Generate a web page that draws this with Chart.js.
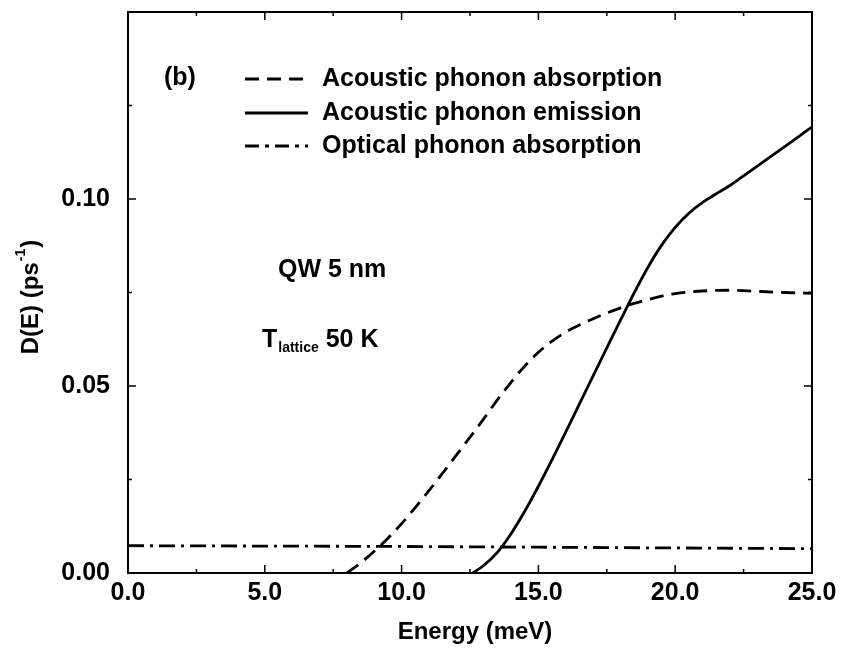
<!DOCTYPE html>
<html>
<head>
<meta charset="utf-8">
<script src="https://cdn.jsdelivr.net/npm/chart.js@4/dist/chart.umd.min.js"></script>
<style>
  html, body { margin: 0; padding: 0; background: #fff; }
  #wrap { width: 845px; height: 648px; }
</style>
</head>
<body>
<div id="wrap"><canvas id="c" width="845" height="648"></canvas></div>
<script>
// ---- Data ----
const absorbEnergy = [8.0, 8.5, 9.0, 9.5, 10.0, 10.5, 11.0, 11.5, 12.0, 12.5, 13.0, 13.5, 14.0, 14.5, 15.0, 15.5, 16.0, 16.5, 17.0, 17.5, 18.0, 18.5, 19.0, 19.5, 20.0, 21.0, 22.0, 23.0, 24.0, 25.0];
const absorbRate   = [0.0, 0.0027, 0.0058, 0.0093, 0.0132, 0.0175, 0.0220, 0.0267, 0.0315, 0.0363, 0.0412, 0.0463, 0.0510, 0.0553, 0.0590, 0.0620, 0.0644, 0.0663, 0.0680, 0.0695, 0.0709, 0.0721, 0.0731, 0.0740, 0.0747, 0.0754, 0.0756, 0.0753, 0.0750, 0.0748];

const emitEnergy = [12.6, 13.0, 13.5, 14.0, 14.5, 15.0, 15.5, 16.0, 16.5, 17.0, 17.5, 18.0, 18.5, 19.0, 19.5, 20.0, 20.5, 21.0, 21.5, 22.0, 22.5, 23.0, 23.5, 24.0, 24.5, 25.0];
const emitRate   = [0.0, 0.0020, 0.0055, 0.0105, 0.0165, 0.0232, 0.0303, 0.0377, 0.0452, 0.0527, 0.0602, 0.0676, 0.0749, 0.0817, 0.0876, 0.0924, 0.0962, 0.0991, 0.1014, 0.1036, 0.1062, 0.1088, 0.1114, 0.1140, 0.1166, 0.1193];

const opticEnergy = [0, 5, 10, 15, 20, 25];
const opticRate   = [0.0073, 0.0072, 0.0071, 0.0069, 0.0067, 0.0065];

const seriesLabels = ["Acoustic phonon absorption", "Acoustic phonon emission", "Optical phonon absorption"];
const xMajorTicks = [0, 5, 10, 15, 20, 25];
const xMinorTicks = [2.5, 7.5, 12.5, 17.5, 22.5];
const yLabelTicks = [0, 0.05, 0.10];
const yMajorTicks = [0, 0.05, 0.10, 0.15];
const yMinorTicks = [0.025, 0.075, 0.125];

const FONT = "'Liberation Sans', Arial, Helvetica, sans-serif";
const dashAbs = [14, 8];
const dashOpt = [16, 6, 3, 6];

function pts(xs, ys) { return xs.map((x, i) => ({x: x, y: ys[i]})); }

const decor = {
  id: 'decor',
  afterDraw(chart) {
    const {ctx, chartArea: a, scales: {x, y}} = chart;
    ctx.save();
    // frame
    ctx.strokeStyle = '#000';
    ctx.lineWidth = 2;
    ctx.strokeRect(a.left, a.top, a.right - a.left, a.bottom - a.top);
    // inward ticks on all four sides
    ctx.lineWidth = 1.5;
    const tick = (vals, len) => {
      vals.forEach(v => {
        const px = x.getPixelForValue(v);
        ctx.beginPath();
        ctx.moveTo(px, a.bottom); ctx.lineTo(px, a.bottom - len);
        ctx.moveTo(px, a.top); ctx.lineTo(px, a.top + len);
        ctx.stroke();
      });
    };
    const ytick = (vals, len) => {
      vals.forEach(v => {
        const py = y.getPixelForValue(v);
        ctx.beginPath();
        ctx.moveTo(a.left, py); ctx.lineTo(a.left + len, py);
        ctx.moveTo(a.right, py); ctx.lineTo(a.right - len, py);
        ctx.stroke();
      });
    };
    tick(xMajorTicks, 8); tick(xMinorTicks, 4);
    ytick(yMajorTicks, 8); ytick(yMinorTicks, 4);

    ctx.fillStyle = '#000';
    ctx.textBaseline = 'middle';
    ctx.textAlign = 'left';
    const big = 'bold 25px ' + FONT;
    // panel label
    ctx.font = big;
    ctx.fillText('(b)', 164, 78);

    // legend
    const rows = [79, 113, 146];
    const dashes = [dashAbs, [], [14, 6, 4, 6]];
    ctx.lineWidth = 2.8;
    rows.forEach((ry, i) => {
      ctx.setLineDash(dashes[i]);
      ctx.beginPath();
      ctx.moveTo(245, ry); ctx.lineTo(308, ry);
      ctx.stroke();
    });
    ctx.setLineDash([]);
    ctx.font = big;
    rows.forEach((ry, i) => ctx.fillText(seriesLabels[i], 322, ry));

    // annotations
    ctx.fillText('QW 5 nm', 278, 270);
    ctx.fillText('T', 262, 340);
    let tw = ctx.measureText('T').width;
    ctx.font = 'bold 14px ' + FONT;
    ctx.fillText('lattice', 262 + tw + 1, 348);
    let sw = ctx.measureText('lattice').width;
    ctx.font = big;
    ctx.fillText(' 50 K', 262 + tw + 1 + sw, 340);

    // x title
    ctx.font = 'bold 24px ' + FONT;
    ctx.textAlign = 'center';
    ctx.fillText('Energy (meV)', 475, 632);

    // y title (rotated, with superscript)
    ctx.save();
    ctx.translate(31, 297);
    ctx.rotate(-Math.PI / 2);
    ctx.font = 'bold 24px ' + FONT;
    const p1 = 'D(E) (ps', p2 = '-1', p3 = ')';
    const w1 = ctx.measureText(p1).width;
    ctx.font = 'bold 14px ' + FONT;
    const w2 = ctx.measureText(p2).width;
    ctx.font = 'bold 24px ' + FONT;
    const w3 = ctx.measureText(p3).width;
    let sx = -(w1 + w2 + w3 + 2) / 2;
    ctx.textAlign = 'left';
    ctx.fillText(p1, sx, 0);
    ctx.font = 'bold 14px ' + FONT;
    ctx.fillText(p2, sx + w1 + 1, -10);
    ctx.font = 'bold 24px ' + FONT;
    ctx.fillText(p3, sx + w1 + w2 + 2, 0);
    ctx.restore();

    ctx.restore();
  }
};

new Chart(document.getElementById('c'), {
  type: 'scatter',
  data: {
    datasets: [
      { label: seriesLabels[0], data: pts(absorbEnergy, absorbRate), showLine: true,
        borderColor: '#000', borderWidth: 2.8, borderDash: dashAbs, pointRadius: 0,
        cubicInterpolationMode: 'monotone', fill: false },
      { label: seriesLabels[1], data: pts(emitEnergy, emitRate), showLine: true,
        borderColor: '#000', borderWidth: 2.8, pointRadius: 0,
        cubicInterpolationMode: 'monotone', fill: false },
      { label: seriesLabels[2], data: pts(opticEnergy, opticRate), showLine: true,
        borderColor: '#000', borderWidth: 2.8, borderDash: dashOpt, pointRadius: 0,
        fill: false }
    ]
  },
  options: {
    responsive: false,
    animation: false,
    layout: { padding: { top: 12, right: 33, left: 0, bottom: 0 } },
    plugins: { legend: { display: false }, tooltip: { enabled: false } },
    scales: {
      x: {
        type: 'linear', min: 0, max: 25,
        afterBuildTicks: s => { s.ticks = xMajorTicks.map(v => ({value: v})); },
        afterFit: s => { s.height = 75; s.paddingLeft = 0; s.paddingRight = 0; },
        grid: { display: false, drawTicks: false },
        border: { display: true, color: '#000', width: 2 },
        ticks: { color: '#000', font: { family: FONT, size: 25, weight: 'bold' }, padding: 5,
                 maxRotation: 0, callback: v => Number(v).toFixed(1) }
      },
      y: {
        type: 'linear', min: 0, max: 0.15,
        afterBuildTicks: s => { s.ticks = yLabelTicks.map(v => ({value: v})); },
        afterFit: s => { s.width = 128; s.paddingTop = 0; s.paddingBottom = 0; },
        grid: { display: false, drawTicks: false },
        border: { display: true, color: '#000', width: 2 },
        ticks: { color: '#000', font: { family: FONT, size: 25, weight: 'bold' }, padding: 18,
                 callback: v => Number(v).toFixed(2) }
      }
    }
  },
  plugins: [decor]
});
</script>
</body>
</html>
